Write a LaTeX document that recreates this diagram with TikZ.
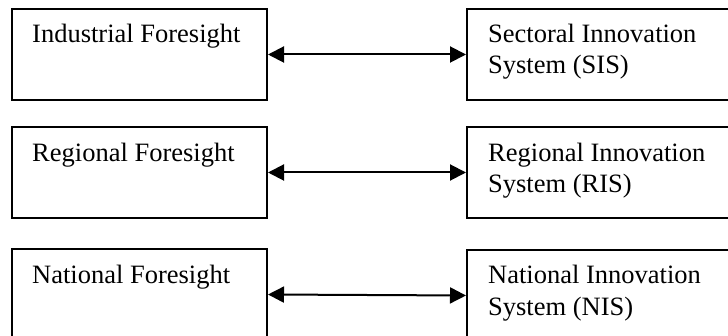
\documentclass[tikz,border=0pt]{standalone}
\usepackage{fontspec}
\setmainfont{Liberation Serif}
\usetikzlibrary{arrows.meta}
\begin{document}
\begin{tikzpicture}[x=1pt,y=-1pt,
  box/.style={draw=black, line width=2pt, rectangle, inner sep=0pt, anchor=north west},
  leftbox/.style={box, minimum width=255pt, minimum height=91pt},
  rightbox/.style={box, minimum width=270pt, minimum height=91pt},
  lbl/.style={inner sep=0pt, anchor=base west, align=left,
    font=\fontsize{26.5}{31}\selectfont},
  link/.style={line width=2pt, {Triangle[length=16pt,width=16pt]}-{Triangle[length=16pt,width=16pt]}}]
\useasboundingbox (0,0) rectangle (728,336);
\clip (0,0) rectangle (728,336);

% foresight boxes (left column)
\node[leftbox] (L1) at (11,8) {};
\node[leftbox] (L2) at (11,126) {};
\node[leftbox] (L3) at (11,248) {};

% innovation system boxes (right column)
\node[rightbox] (R1) at (466,8) {};
\node[rightbox] (R2) at (466,126) {};
\node[rightbox] (R3) at (466,249) {};

% labels
\node[lbl] (L1t) at (32,43) {Industrial Foresight};
\node[lbl] (L2t) at (32,162) {Regional Foresight};
\node[lbl] (L3t) at (32,284) {National Foresight};

\node[lbl] (R1a) at (488,43) {Sectoral Innovation};
\node[lbl] (R1b) at (488,74) {System (SIS)};
\node[lbl] (R2a) at (488,162) {Regional Innovation};
\node[lbl] (R2b) at (488,193) {System (RIS)};
\node[lbl] (R3a) at (488,284) {National Innovation};
\node[lbl] (R3b) at (488,316) {System (NIS)};

% two-way links
\draw[link] (L1.east) -- (R1.west);
\draw[link] (L2.east) -- (R2.west);
\draw[link] (L3.east) -- (R3.west);
\end{tikzpicture}
\end{document}
